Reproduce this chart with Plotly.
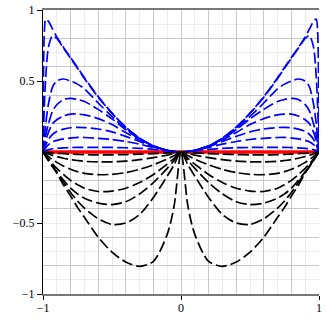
import plotly.graph_objects as go

# left half of the x grid, curves are mirrored about x = 0
x_half = [-1, -0.99, -0.98, -0.96, -0.93, -0.9, -0.85, -0.8, -0.75, -0.7,
          -0.6, -0.5, -0.4, -0.3, -0.2, -0.1, -0.05, 0]

blue_curves = [
    [0, 0.85, 0.935, 0.92, 0.865, 0.81, 0.735, 0.665, 0.595, 0.523, 0.39, 0.274, 0.175, 0.098, 0.043, 0.011, 0.003, 0],
    [0, 0.33, 0.53, 0.74, 0.82, 0.80, 0.73, 0.66, 0.59, 0.518, 0.386, 0.272, 0.174, 0.097, 0.043, 0.011, 0.003, 0],
    [0, 0.1, 0.2, 0.34, 0.46, 0.5, 0.514, 0.5, 0.478, 0.445, 0.345, 0.25, 0.163, 0.093, 0.042, 0.011, 0.003, 0],
    [0, 0.06, 0.12, 0.2, 0.29, 0.333, 0.37, 0.378, 0.37, 0.356, 0.30, 0.233, 0.157, 0.092, 0.042, 0.011, 0.003, 0],
    [0, 0.04, 0.08, 0.14, 0.2, 0.227, 0.254, 0.267, 0.267, 0.262, 0.235, 0.193, 0.137, 0.085, 0.04, 0.011, 0.003, 0],
    [0, 0.025, 0.05, 0.09, 0.125, 0.145, 0.161, 0.171, 0.174, 0.172, 0.162, 0.142, 0.11, 0.074, 0.037, 0.0105, 0.003, 0],
    [0, 0.015, 0.03, 0.052, 0.072, 0.082, 0.092, 0.098, 0.103, 0.102, 0.096, 0.088, 0.074, 0.055, 0.032, 0.01, 0.003, 0],
    [0, 0.005, 0.01, 0.017, 0.023, 0.026, 0.029, 0.031, 0.033, 0.033, 0.033, 0.032, 0.03, 0.026, 0.019, 0.008, 0.0027, 0],
]

black_curves = [
    [0, -0.001, -0.002, -0.004, -0.007, -0.009, -0.012, -0.015, -0.017, -0.019, -0.02, -0.02, -0.018, -0.015, -0.011, -0.006, -0.003, 0],
    [0, -0.0035, -0.007, -0.014, -0.024, -0.032, -0.044, -0.053, -0.06, -0.066, -0.07, -0.069, -0.064, -0.054, -0.04, -0.022, -0.011, 0],
    [0, -0.008, -0.016, -0.032, -0.055, -0.073, -0.1, -0.122, -0.138, -0.15, -0.16, -0.157, -0.145, -0.122, -0.09, -0.05, -0.026, 0],
    [0, -0.012, -0.025, -0.05, -0.085, -0.115, -0.16, -0.2, -0.23, -0.255, -0.278, -0.275, -0.255, -0.215, -0.158, -0.085, -0.045, 0],
    [0, -0.015, -0.03, -0.06, -0.1, -0.14, -0.2, -0.255, -0.295, -0.325, -0.36, -0.37, -0.35, -0.295, -0.215, -0.115, -0.06, 0],
    [0, -0.015, -0.03, -0.06, -0.105, -0.145, -0.215, -0.285, -0.345, -0.395, -0.47, -0.51, -0.5, -0.44, -0.32, -0.17, -0.09, 0],
    [0, -0.015, -0.03, -0.06, -0.1, -0.148, -0.235, -0.31, -0.39, -0.46, -0.6, -0.705, -0.775, -0.805, -0.77, -0.58, -0.38, 0],
]

red_x = [-1, 1]
red_y = [0, 0]


def mirror(half_x, half_y):
    xs = list(half_x) + [-v for v in reversed(half_x[:-1])]
    ys = list(half_y) + list(reversed(half_y[:-1]))
    return xs, ys


fig = go.Figure()

fig.add_trace(go.Scatter(x=red_x, y=red_y, mode='lines',
                         line=dict(color='#ff0000', width=3.5),
                         hoverinfo='skip', showlegend=False))

for ys in blue_curves:
    xx, yy = mirror(x_half, ys)
    fig.add_trace(go.Scatter(x=xx, y=yy, mode='lines',
                             line=dict(color='#0000ff', width=1.7, dash='11px,4px',
                                       shape='spline', smoothing=0.8),
                             hoverinfo='skip', showlegend=False))

for ys in black_curves:
    xx, yy = mirror(x_half, ys)
    fig.add_trace(go.Scatter(x=xx, y=yy, mode='lines',
                             line=dict(color='#000000', width=1.7, dash='11px,4px',
                                       shape='spline', smoothing=0.8),
                             hoverinfo='skip', showlegend=False))

# empty trace so the overlay axes (major grid) get drawn
fig.add_trace(go.Scatter(x=[], y=[], xaxis='x2', yaxis='y2', showlegend=False))

font = dict(family='Liberation Serif', size=12, color='black')

fig.update_layout(
    width=327, height=327,
    margin=dict(l=43, r=8, t=10, b=33),
    paper_bgcolor='white', plot_bgcolor='white',
    font=font,
    xaxis=dict(range=[-1, 1], tickvals=[-1, 0, 1], ticktext=['\u22121', '0', '1'],
               ticks='outside', ticklen=4, tickcolor='black', ticklabelstandoff=-2,
               showgrid=False, zeroline=False, automargin=False,
               showline=True, linecolor='#777777', linewidth=1.5, mirror=True,
               minor=dict(dtick=0.1, tick0=0, showgrid=True, gridcolor='#ececec', gridwidth=1)),
    yaxis=dict(range=[-1, 1], tickvals=[-1, -0.5, 0.5, 1],
               ticktext=['\u22121', '\u22120.5', '0.5', '1'],
               ticks='outside', ticklen=5, tickcolor='black',
               showgrid=True, gridcolor='#ececec', zeroline=False, automargin=False,
               showline=True, linecolor='black', linewidth=1,
               minor=dict(dtick=0.1, tick0=0, showgrid=True, gridcolor='#ececec', gridwidth=1)),
    xaxis2=dict(overlaying='x', anchor='y2', range=[-1, 1], tick0=0, dtick=0.2,
                showgrid=True, gridcolor='#c8c8c8', gridwidth=1, automargin=False,
                showticklabels=False, ticks='', zeroline=False, showline=False),
    yaxis2=dict(overlaying='y', anchor='x2', range=[-1, 1], tick0=0, dtick=0.2,
                showgrid=True, gridcolor='#c8c8c8', gridwidth=1, automargin=False,
                showticklabels=False, ticks='', zeroline=False, showline=False),
)

# the page body has a default 8px margin; drop it so the figure sits at 0,0
fig.write_html("out.html", config={'displayModeBar': False},
               post_script="document.body.style.margin='0';")
